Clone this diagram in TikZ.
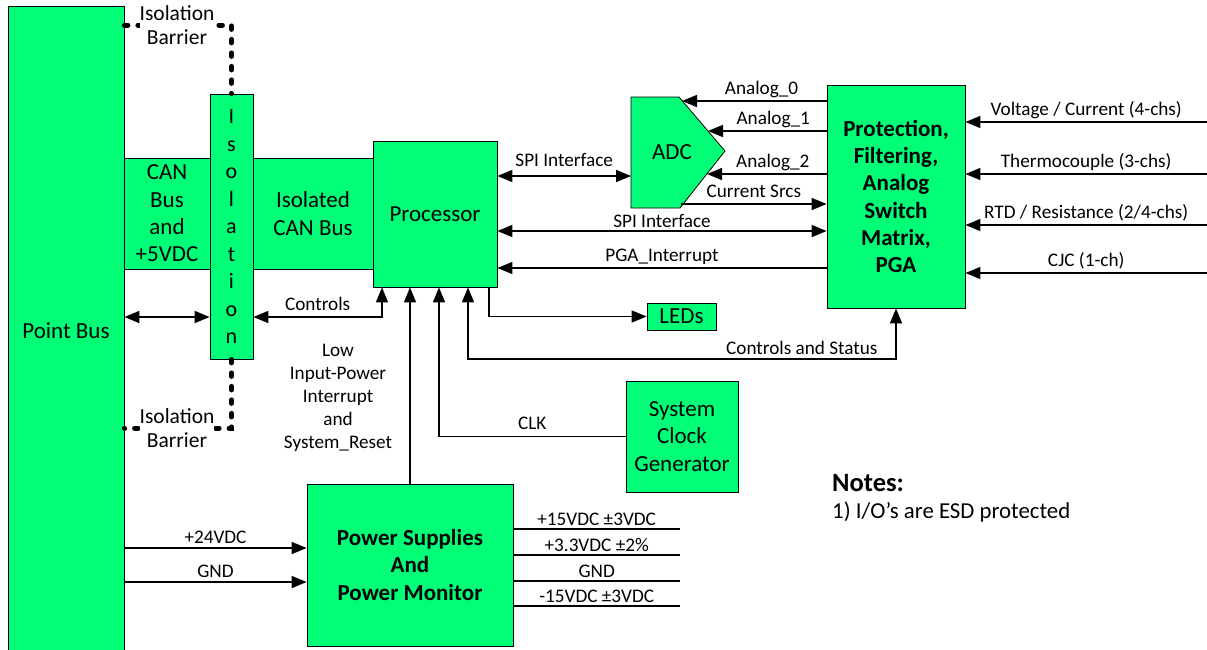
\documentclass[tikz,border=0pt]{standalone}
\usepackage{fontspec}
\setmainfont{Carlito}
\usetikzlibrary{arrows.meta,positioning}

\definecolor{boxgreen}{RGB}{0,255,119}

\tikzset{
  blk/.style={draw, fill=boxgreen, line width=0.8pt, align=center, inner sep=0pt,
              font=\fontsize{23}{27.3}\selectfont},
  sig/.style={line width=1.6pt},
  lbl/.style={font=\fontsize{19.2}{23}\selectfont, inner sep=1pt, text height=13pt, text depth=4pt, above=1pt},
  barrier/.style={line width=5pt, line cap=round, dash pattern=on 3.5pt off 10pt},
}

\begin{document}
\begin{tikzpicture}[x=1pt, y=-1pt, >={Triangle[length=15pt,width=12pt]}]
\useasboundingbox (0,0) rectangle (1207,649);

% blocks
\node[blk, minimum width=116pt, minimum height=649pt] (pointbus) at (66,330.5) {Point Bus};
\node[blk, minimum width=86pt, minimum height=111pt] (canbus) at (167,213.5) {CAN\\Bus\\and\\+5VDC};
\node[blk, minimum width=43pt, minimum height=265pt, font=\fontsize{22}{27.5}\selectfont] (iso) at (231.5,226.5) {I\\s\\o\\l\\a\\t\\i\\o\\n};
\node[blk, minimum width=120pt, minimum height=111pt] (isocan) at (313,213.5) {Isolated\\CAN Bus};
\node[blk, minimum width=124pt, minimum height=146pt] (proc) at (435,214) {Processor};
\node[blk, minimum width=138pt, minimum height=223pt, font=\bfseries\fontsize{23}{27.2}\selectfont] (prot) at (896,196.5) {Protection,\\Filtering,\\Analog\\Switch\\Matrix,\\PGA};
\node[blk, minimum width=69pt, minimum height=27pt] (leds) at (681.5,316.5) {LEDs};
\node[blk, minimum width=112pt, minimum height=111pt] (clock) at (682,436.5) {System\\Clock\\Generator};
\node[blk, minimum width=206pt, minimum height=162pt, font=\bfseries\fontsize{23}{27.5}\selectfont] (power) at (410,565) {Power Supplies\\And\\Power Monitor};

% ADC
\draw[line width=0.8pt, fill=boxgreen] (631,97) -- (679,97) -- (725,151) -- (680,208) -- (631,208) -- cycle;
\node[font=\fontsize{23}{25}\selectfont] (adc) at (672,152) {ADC};
\coordinate (adc-a0) at (682,101);
\coordinate (adc-a1) at (708,131);
\coordinate (adc-a2) at (707,174);
\coordinate (adc-cs) at (681,204);
\coordinate (adc-spi) at (631,176);

% isolation barrier
\draw[barrier] (pointbus.east |- 0,25) -| (iso.north);
\draw[barrier] (iso.south) |- (pointbus.east |- 0,428);
\node[fill=white, inner sep=0pt, align=center, font=\fontsize{21.5}{24}\selectfont] (bartop) at (177,25) {Isolation\\Barrier};
\node[fill=white, inner sep=0pt, align=center, font=\fontsize{21.5}{24}\selectfont] (barbot) at (177,428) {Isolation\\Barrier};

% ADC and analog front end
\draw[sig,<-] (adc-a0) -- (adc-a0 -| prot.west) node[lbl, pos=0.55] {Analog\_0};
\draw[sig,<-] (adc-a1) -- (adc-a1 -| prot.west) node[lbl, pos=0.55] {Analog\_1};
\draw[sig,<-] (adc-a2) -- (adc-a2 -| prot.west) node[lbl, pos=0.55] {Analog\_2};
\draw[sig,->] (adc-cs) -- (adc-cs -| prot.west) node[lbl, midway] {Current Srcs};
\draw[sig,<->] (proc.east |- adc-spi) -- (adc-spi) node[lbl, midway, above=4pt] {SPI Interface};
\draw[sig,<->] (proc.east |- 0,231) -- (prot.west |- 0,231) node[lbl, midway, above=-2pt] {SPI Interface};
\draw[sig,<-] (proc.east |- 0,268) -- (prot.west |- 0,268) node[lbl, midway] {PGA\_Interrupt};

% field inputs
\foreach \y/\txt in {122/{Voltage / Current (4-chs)}, 174/{Thermocouple (3-chs)}, 225/{RTD / Resistance (2/4-chs)}, 273/{CJC (1-ch)}}
{
  \coordinate (in\y) at (1207,\y);
  \draw[sig,->] (in\y) -- (in\y -| prot.east) node[lbl, midway] {\txt};
}

% processor side
\draw[sig,<->] (pointbus.east |- 0,317) -- (iso.west |- 0,317);
\draw[sig,<->] (iso.east |- 0,317) -| (proc.south -| 382,0) node[lbl, pos=0.25] {Controls};
\draw[sig,->] (power.north) -- (power.north |- proc.south);
\draw[sig,->] (clock.west) -| (proc.south -| 439,0) node[lbl, pos=0.25] {CLK};
\draw[sig,<->] (proc.south -| 468,0) |- (prot.south |- 0,359) node[lbl, pos=0.89, above=-1pt] {Controls and Status} -- (prot.south);
\draw[sig,->] (proc.south -| 489,0) |- (leds.west);

\node[font=\fontsize{19.2}{23}\selectfont, align=center] (lowpwr) at (338,398) {Low\\Input-Power\\Interrupt\\and\\System\_Reset};

% power
\draw[sig,->] (pointbus.east |- 0,548) -- (power.west |- 0,548) node[lbl, midway, above=-1pt] {+24VDC};
\draw[sig,->] (pointbus.east |- 0,582) -- (power.west |- 0,582) node[lbl, midway, above=-1pt] {GND};
\foreach \y/\txt in {529/{+15VDC ±3VDC}, 555/{+3.3VDC ±2\%}, 581/{GND}, 606/{-15VDC ±3VDC}}
{
  \coordinate (out\y) at (680,\y);
  \draw[sig] (power.east |- out\y) -- (out\y) node[lbl, midway, above=-2pt] {\txt};
}

% notes
\node[anchor=west, inner sep=0pt, font=\bfseries\fontsize{26.5}{28}\selectfont] (notes) at (832,483) {Notes:};
\node[anchor=west, inner sep=0pt, font=\fontsize{22.8}{25}\selectfont] (note1) at (832,512) {1) I/O’s are ESD protected};

\end{tikzpicture}
\end{document}
